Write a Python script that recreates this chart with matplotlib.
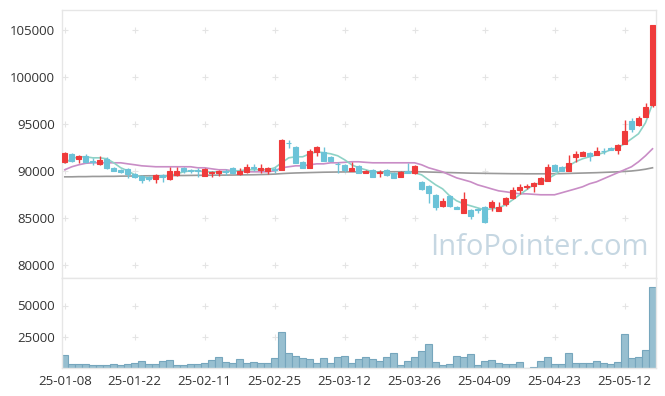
import matplotlib

matplotlib.use("Agg")
import matplotlib.pyplot as plt
import numpy as np
import pandas as pd

plt.rcParams["font.family"] = ["Open Sans", "DejaVu Sans"]

holidays = ["2025-01-27", "2025-01-28", "2025-01-29", "2025-01-30",
            "2025-03-03", "2025-05-01", "2025-05-05", "2025-05-06"]
dates = pd.bdate_range("2025-01-08", "2025-05-16")
dates = dates[~dates.isin(pd.to_datetime(holidays))]

opens = [90960, 91810, 91280, 91600, 91000, 90740, 91280, 90320, 90110, 90210,
         89680, 89470, 89360, 89150, 89570, 89150, 89570, 90320, 90050, 90050,
         89470, 89790, 89790, 89950, 90320, 89680, 89890, 90400, 90110, 90000,
         90150, 90110, 93000, 92550, 90960, 90320, 92020, 92020, 91490, 90760,
         90640, 90000, 90530, 89790, 90110, 89790, 90110, 89790, 89360, 90000,
         89790, 88830, 88400, 87450, 86280, 87340, 86170, 85530, 85850, 85900,
         86170, 86170, 85740, 86490, 87130, 87980, 88300, 88400, 88620, 88940,
         90640, 90430, 90000, 91490, 91600, 91920, 91700, 92150, 92450, 92230,
         92870, 95300, 94890, 95750, 97020]
highs = [92020, 91920, 91700, 91810, 91380, 91600, 91490, 90430, 90200, 90300,
         89790, 89570, 89470, 89680, 89680, 90430, 90430, 90400, 90200, 90320,
         90320, 89950, 90050, 90210, 90400, 90320, 90740, 90740, 90740, 90400,
         90430, 93350, 93300, 92650, 91050, 92340, 92650, 92550, 91550, 90960,
         90700, 90960, 90600, 90050, 90150, 90110, 90150, 89850, 89950, 90850,
         90600, 88900, 88450, 87500, 87130, 87400, 86250, 87770, 85900, 86060,
         86250, 86910, 86700, 87200, 88300, 88620, 88620, 88830, 89360, 90740,
         90700, 90500, 91700, 92130, 92100, 91950, 92550, 92450, 92500, 92850,
         95400, 95640, 95850, 97230, 105530]
lows = [90850, 90960, 90850, 90850, 90640, 90640, 90210, 89950, 89800, 89260,
        89260, 88720, 88900, 88720, 88800, 89050, 89470, 89790, 89800, 89360,
        89400, 89360, 89470, 89570, 89700, 89600, 89800, 90000, 89790, 89680,
        89790, 90050, 92450, 90800, 90250, 90250, 91600, 91000, 91000, 89790,
        89890, 89950, 89750, 89750, 89300, 89360, 89500, 89200, 89300, 89750,
        89700, 88000, 86600, 85850, 86200, 86200, 85900, 85500, 84890, 85530,
        84500, 85740, 85700, 86280, 87050, 87550, 88080, 87770, 88550, 88900,
        89950, 89950, 89950, 90960, 91550, 91060, 91650, 91810, 92200, 91810,
        92800, 94150, 94800, 95700, 96810]
closes = [91920, 91060, 91600, 90960, 90960, 91170, 90320, 90000, 89890, 89680,
          89360, 89040, 89100, 89570, 89360, 90000, 90000, 90000, 90000, 90000,
          90210, 89890, 90000, 89890, 89790, 90000, 90430, 90320, 90320, 90320,
          90110, 93300, 92950, 90850, 90320, 92130, 92550, 91060, 91060, 90700,
          90110, 90320, 89790, 90000, 89360, 89890, 89570, 89260, 89890, 89790,
          90530, 88080, 87660, 86170, 86810, 86280, 85960, 87020, 85210, 85850,
          84570, 86700, 86170, 87130, 87980, 88300, 88400, 88720, 89260, 90430,
          90000, 90000, 90850, 91810, 92020, 91600, 92130, 92100, 92230, 92770,
          94250, 94470, 95640, 96810, 105530]
volumes = [10240, 2980, 2980, 2980, 2180, 2180, 2180, 2980, 2180, 2980,
           3790, 5400, 2980, 2980, 5400, 6200, 2180, 2180, 2980, 2980,
           3790, 6200, 8620, 4590, 3790, 7010, 3790, 4590, 3790, 3790,
           7820, 28770, 11850, 9430, 7820, 7010, 3790, 7820, 3790, 8620,
           9430, 3790, 7010, 8620, 7010, 5400, 8620, 11850, 2180, 5400,
           8620, 13460, 19100, 4590, 2180, 2980, 9430, 8620, 11040, 2180,
           5400, 6200, 3790, 2980, 2980, 4590, 400, 1200, 5400, 8620,
           2980, 2980, 11850, 3790, 3790, 3790, 5400, 3790, 2980, 4590,
           27160, 7820, 8620, 14270, 65040]
ma5 = [90850, 91280, 91490, 91490, 91380, 91380, 91280, 90850, 90320, 90000,
       89570, 89360, 89250, 89250, 89360, 89470, 89680, 89890, 90000, 90000,
       89890, 89890, 89890, 89890, 90000, 90000, 90110, 90110, 90110, 90110,
       90320, 90850, 91380, 91490, 91490, 91810, 92020, 91920, 91810, 91600,
       91170, 90640, 90320, 90110, 89890, 89790, 89790, 89680, 89680, 89790,
       89790, 89570, 89040, 88510, 88080, 87340, 86810, 86490, 86280, 86060,
       85850, 85960, 86060, 86380, 86910, 87450, 87980, 88510, 88720, 89150,
       89570, 90110, 90530, 90960, 91280, 91490, 91700, 91920, 92230, 92450,
       92870, 93400, 93940, 95110, 97130]
ma20 = [90110, 90430, 90640, 90800, 90850, 90850, 90850, 90850, 90850, 90740,
        90640, 90530, 90480, 90430, 90430, 90430, 90430, 90430, 90430, 90320,
        90320, 90210, 90110, 90110, 90000, 90000, 89890, 89890, 89890, 89890,
        90000, 90320, 90430, 90530, 90530, 90640, 90740, 90740, 90850, 90850,
        90900, 90960, 90960, 90900, 90850, 90850, 90850, 90850, 90850, 90850,
        90850, 90640, 90320, 90110, 89890, 89570, 89250, 89040, 88830, 88510,
        88300, 88080, 87870, 87770, 87660, 87550, 87550, 87500, 87450, 87450,
        87450, 87660, 87870, 88080, 88300, 88620, 88830, 89150, 89470, 89790,
        90110, 90430, 90960, 91600, 92340]
ma120 = [89360, 89360, 89380, 89380, 89400, 89400, 89410, 89410, 89430, 89440,
         89450, 89460, 89470, 89470, 89480, 89490, 89500, 89500, 89510, 89520,
         89520, 89530, 89540, 89540, 89550, 89560, 89570, 89580, 89600, 89620,
         89650, 89700, 89740, 89770, 89790, 89810, 89830, 89850, 89860, 89870,
         89880, 89890, 89890, 89890, 89890, 89890, 89890, 89900, 89900, 89900,
         89900, 89890, 89870, 89850, 89830, 89810, 89790, 89770, 89750, 89740,
         89730, 89720, 89710, 89700, 89690, 89690, 89680, 89680, 89680, 89680,
         89690, 89700, 89720, 89740, 89760, 89780, 89800, 89830, 89860, 89890,
         89930, 89980, 90060, 90170, 90320]
price_ticks = [80000, 85000, 90000, 95000, 100000, 105000]
volume_ticks = [25000, 50000]

UP = "#ef3b3b"
DOWN = "#6cc3d8"
GRID = "#e4e4e4"
SPINE = "#e6e6e6"

o = np.array(opens)
c = np.array(closes)
x = np.arange(len(dates))
up = c >= o
colors = np.where(up, UP, DOWN)

fig = plt.figure(figsize=(6.65, 3.96), dpi=100)
ax = fig.add_axes([62 / 665, 118 / 396, 594 / 665, 268 / 396])
axv = fig.add_axes([62 / 665, 28 / 396, 594 / 665, 90 / 396], sharex=ax)

# grid crosses at tick intersections
xt = x[::10]
gx, gy = np.meshgrid(xt, price_ticks)
ax.scatter(gx.ravel(), gy.ravel(), marker="+", s=14, color=GRID, linewidths=0.8, zorder=0)
gx, gy = np.meshgrid(xt, volume_ticks)
axv.scatter(gx.ravel(), gy.ravel(), marker="+", s=14, color=GRID, linewidths=0.8, zorder=0)

ax.plot(x, ma120, color="#9a9a9a", lw=1.2, zorder=1)
ax.plot(x, ma20, color="#c98dc6", lw=1.2, zorder=1)
ax.plot(x, ma5, color="#8ed2c6", lw=1.2, zorder=1)

ax.vlines(x, lows, highs, colors=colors, lw=1.0, zorder=2)
ax.bar(x, np.abs(c - o), bottom=np.minimum(o, c), width=0.72, color=colors,
       edgecolor=colors, linewidth=0.8, zorder=3)

ax.text(0.987, 0.06, "InfoPointer.com", transform=ax.transAxes, ha="right", va="bottom",
        fontsize=21, color="#c6d7e2", zorder=0)

axv.bar(x, volumes, width=0.95, color="#97bfd0", edgecolor="#76a6bd", linewidth=0.8)

ax.set_xlim(-0.4, len(x) - 0.5)
ax.set_ylim(78600, 107100)
ax.set_yticks(price_ticks)
ax.set_yticklabels([str(t) for t in price_ticks])
axv.set_ylim(0, 72000)
axv.set_yticks(volume_ticks)
axv.set_yticklabels([str(t) for t in volume_ticks])
axv.set_xticks(xt)
axv.set_xticklabels([d.strftime("%y-%m-%d") for d in dates[::10]])
ax.tick_params(axis="x", labelbottom=False)

for a in (ax, axv):
    a.tick_params(length=0, labelsize=9.5, colors="#333333", pad=5)
    for s in a.spines.values():
        s.set_color(SPINE)
        s.set_linewidth(1.0)

fig.savefig("out.png", dpi=100)
